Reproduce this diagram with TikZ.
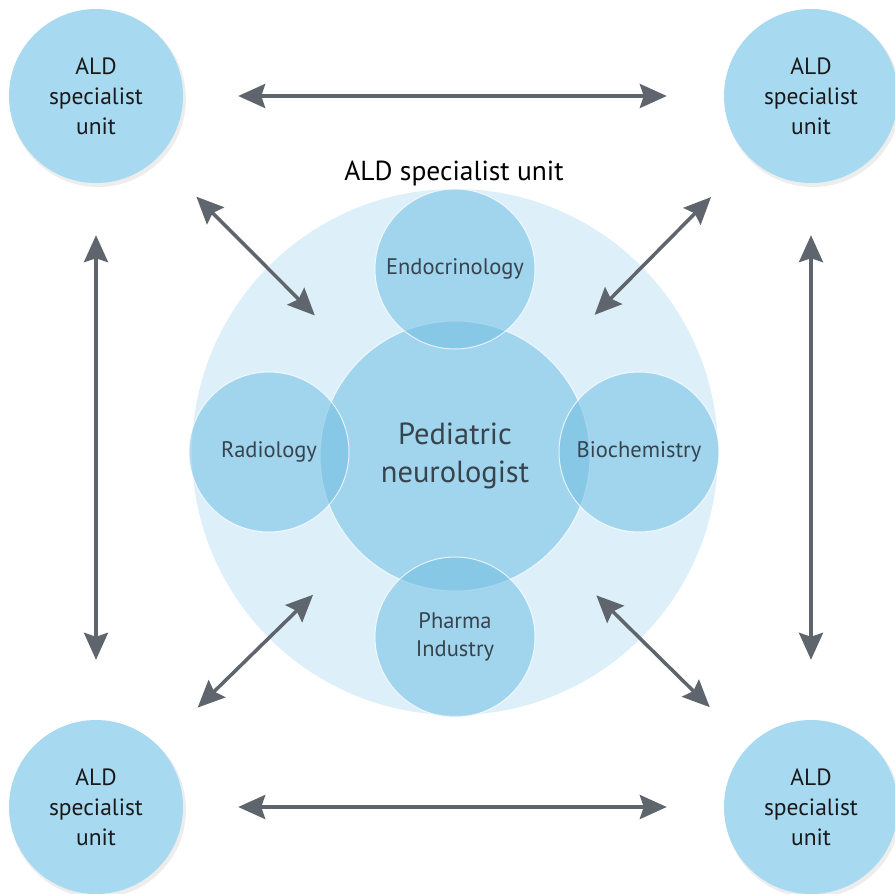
\documentclass[tikz,border=0pt]{standalone}
\usepackage{fontspec}
\setmainfont{PT Sans}
\usetikzlibrary{arrows.meta}
\definecolor{corner}{RGB}{167,217,240}
\definecolor{pale}{RGB}{221,240,249}
\definecolor{inner}{RGB}{116,191,228}
\definecolor{arrowgray}{RGB}{95,101,108}
\definecolor{labelgray}{RGB}{55,68,78}
\begin{document}
\begin{tikzpicture}[x=1pt,y=-1pt,
  unitcircle/.style={circle, fill=corner, minimum size=174pt, inner sep=0pt, align=center,
    font=\fontsize{23.5}{30}\selectfont, text=black!90},
  subcircle/.style={circle, fill=inner, fill opacity=0.57, text opacity=1, draw=white,
    draw opacity=0.75, line width=1pt, minimum size=160pt, inner sep=0pt, align=center,
    font=\fontsize{22.5}{28}\selectfont, text=labelgray},
  shadowdisc/.style={fill=black, opacity=0.07},
  link/.style={draw=arrowgray, line width=3.5pt,
    {Stealth[length=27pt,width=24pt,inset=4pt]}-{Stealth[length=27pt,width=24pt,inset=4pt]}},
  inlink/.style={link, shorten <=55pt, shorten >=63pt}
]
\useasboundingbox (0,0) rectangle (895,894);
\fill[white] (0,0) rectangle (895,894);

% outer unit
\node[circle, fill=pale, minimum size=526pt, inner sep=0pt] (unit) at (455,452) {};
\node[font=\fontsize{27.5}{32}\selectfont, text=black] (title) at (454,173) {ALD specialist unit};

% inner circles
\node[subcircle, minimum size=270pt, font=\fontsize{30.5}{38}\selectfont] (pn) at (455,456) {Pediatric\\neurologist};
\node[subcircle] (endo) at (455,269) {Endocrinology};
\node[subcircle] (radio) at (269,452) {Radiology};
\node[subcircle] (bio) at (639,452) {Biochemistry};
\node[subcircle] (pharma) at (455,637) {Pharma\\Industry};

% corner shadows
\fill[shadowdisc] (98,99) circle (88);
\fill[shadowdisc] (813,99) circle (88);
\fill[shadowdisc] (98,810) circle (88);
\fill[shadowdisc] (813,810) circle (88);

% corner units
\node[unitcircle] (tl) at (96,96) {ALD\\specialist\\unit};
\node[unitcircle] (tr) at (811,96) {ALD\\specialist\\unit};
\node[unitcircle] (bl) at (96,807) {ALD\\specialist\\unit};
\node[unitcircle] (br) at (811,807) {ALD\\specialist\\unit};

% connectors between units
\draw[link, shorten <=55pt, shorten >=57pt] (tl) -- (tr);
\draw[link, shorten <=55pt, shorten >=57pt] (bl) -- (br);
\draw[link, shorten <=52pt, shorten >=60pt] (tl) -- (bl);
\draw[link, shorten <=52pt, shorten >=60pt] (tr) -- (br);

% diagonal connectors
\draw[inlink] (tl) -- (pn);
\draw[inlink] (tr) -- (pn);
\draw[inlink] (bl) -- (pn);
\draw[inlink] (br) -- (pn);
\end{tikzpicture}
\end{document}
